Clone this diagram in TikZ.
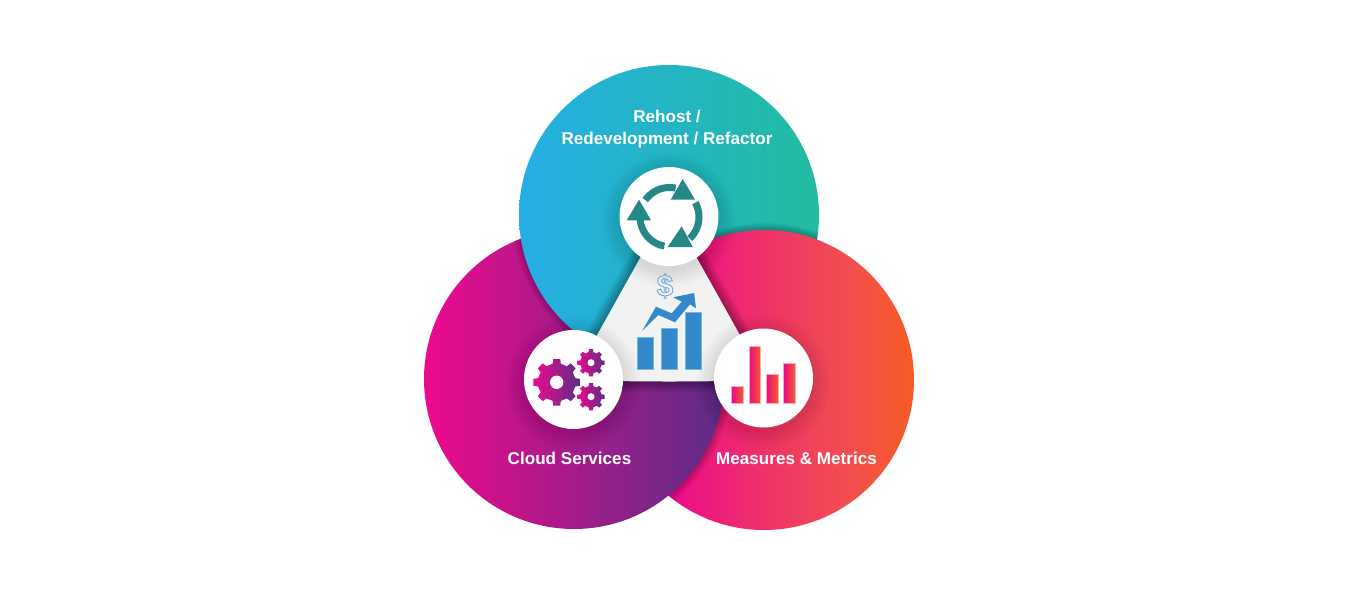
\documentclass[tikz,border=0pt]{standalone}
\usepackage{fontspec}
\setmainfont{Liberation Sans}
\newfontfamily\dollarfont{Liberation Sans}
\definecolor{cyanL}{RGB}{37,174,229}
\definecolor{tealR}{RGB}{33,188,160}
\definecolor{pinkL}{RGB}{236,10,140}
\definecolor{purpR}{RGB}{92,45,135}
\definecolor{orangeR}{RGB}{246,92,36}
\definecolor{gradA}{RGB}{239,50,105}
\definecolor{gradB}{RGB}{242,78,80}
\definecolor{greyT}{RGB}{242,242,242}
\definecolor{iconteal}{RGB}{38,135,135}
\definecolor{iconblue}{RGB}{50,137,204}
\definecolor{edgeblue}{RGB}{120,180,225}
\definecolor{edgepink}{RGB}{250,170,190}
\pgfdeclarehorizontalshading{rightgrad}{100bp}{
  color(0bp)=(pinkL); color(34bp)=(pinkL);
  color(50bp)=(gradA);
  color(64bp)=(gradB);
  color(75bp)=(orangeR); color(100bp)=(orangeR)}
\tikzset{
  toplobe/.style={left color=cyanL,right color=tealR},
  leftlobe/.style={left color=pinkL,right color=purpR},
  rightlobe/.style={shading=rightgrad},
  disc/.style={fill=white},
  cyclearrow/.style={fill=iconteal},
  cyclearc/.style={draw=iconteal,line width=7pt},
  bluebar/.style={fill=iconblue,draw=edgeblue,line width=.5pt},
  redbar/.style={left color=pinkL,right color=orangeR,draw=edgepink,line width=.5pt},
  gearfill/.style={left color=pinkL,right color=purpR},
  lobelabel/.style={text=white,font=\fontsize{17.1}{22}\selectfont\bfseries,align=center,inner sep=0pt},
}
\newcommand{\softedge}[3]{\foreach \w in {2,4,...,#2}{\draw[black,line width=\w pt,draw opacity=#3] #1;}}
\newcommand{\discshadow}[2]{\foreach \w in {2,4,...,18}{\fill[black,fill opacity=.012] (#1,#2+4) circle[radius=49+\w];}}
\newcommand{\cogwheel}[6]{% cx cy Router Rroot teeth hole
  \pgfmathsetmacro{\st}{360/#5}
  \shade[gearfill] ({#1+#4*cos(-.28*\st)},{#2+#4*sin(-.28*\st)})
    \foreach \k in {1,...,#5}{
      -- ({#1+#3*cos((\k-1)*\st-.19*\st)},{#2+#3*sin((\k-1)*\st-.19*\st)})
      -- ({#1+#3*cos((\k-1)*\st+.19*\st)},{#2+#3*sin((\k-1)*\st+.19*\st)})
      -- ({#1+#4*cos((\k-1)*\st+.28*\st)},{#2+#4*sin((\k-1)*\st+.28*\st)})
      -- ({#1+#4*cos(\k*\st-.28*\st)},{#2+#4*sin(\k*\st-.28*\st)})
    } -- cycle;
  \fill[white] (#1,#2) circle[radius=#6];
}
\begin{document}
\begin{tikzpicture}[x=1pt,y=-1pt]
\useasboundingbox (0,0) rectangle (1366,590);
\fill[white] (0,0) rectangle (1366,590);
\def\Ptop{(669,215) circle[radius=150]}
\def\Pleft{(574,379) circle[radius=150]}
\def\Pright{(764,380) circle[radius=150]}
% right lobe
\shade[rightlobe] \Pright;
% left lobe over right
\begin{scope}\clip \Pright; \softedge{\Pleft}{16}{.028} \end{scope}
\shade[leftlobe] \Pleft;
% top lobe over left
\begin{scope}\clip \Pleft; \softedge{\Ptop}{14}{.03} \end{scope}
\shade[toplobe] \Ptop;
% right lobe over top
\begin{scope}\clip \Ptop; \softedge{\Pright}{14}{.04} \end{scope}
\begin{scope}\clip (669,215) circle[radius=151.5]; \shade[rightlobe] \Pright; \end{scope}
% central triangle
\def\Ptri{(668.5,207) -- (572,380) .. controls (640,382) and (700,382) .. (765,380) -- cycle}
\softedge{\Ptri}{22}{.032}
\fill[greyT] \Ptri;
% white discs
\discshadow{669}{216.5}
\discshadow{573.5}{379.5}
\discshadow{763.5}{378}
\fill[disc] (669,216.5) circle[radius=49.5];
\fill[disc] (573.5,379.5) circle[radius=49.5];
\fill[disc] (763.5,378) circle[radius=49.5];
% cycle arrows
\draw[cyclearc] plot[domain=215:282,samples=20] ({669.5+29.5*cos(\x)},{217+29.5*sin(\x)});
\draw[cyclearc] plot[domain=331:407,samples=20] ({669.5+29.5*cos(\x)},{217+29.5*sin(\x)});
\draw[cyclearc] plot[domain=100:178,samples=20] ({669.5+29.5*cos(\x)},{217+29.5*sin(\x)});
\fill[cyclearrow] (682.7,179) -- (695,199.7) -- (670.7,199.7) -- cycle;
\fill[cyclearrow] (681.7,226.3) -- (692.7,247) -- (667.7,247) -- cycle;
\fill[cyclearrow] (639,199.7) -- (651,220.3) -- (626.7,220.3) -- cycle;
% gears
\cogwheel{556.7}{382.3}{23.5}{19}{8}{6.7}
\cogwheel{591}{362.7}{13.7}{10.8}{8}{3.5}
\cogwheel{591}{396.7}{13.7}{10.8}{8}{3.5}
% red bars
\shade[redbar] (731.7,386) rectangle (743.3,403.3);
\shade[redbar] (749,346) rectangle (760.7,403.3);
\shade[redbar] (766.3,374.3) rectangle (778,403.3);
\shade[redbar] (783.7,363.3) rectangle (795.3,403.3);
% blue bars
\fill[bluebar] (637,337.7) rectangle (653.3,369);
\fill[bluebar] (661,328.3) rectangle (677.3,369);
\fill[bluebar] (685,312.7) rectangle (701.3,369);
% trend arrow
\fill[iconblue] (642.3,330.7) -- (656,306.7) -- (671.7,313.3) -- (681.7,301.7) -- (673.3,297.3) -- (694,293) -- (696,308.3) -- (690,304.3) -- (675,322.3) -- (658.3,315) -- cycle;
% dollar
\node[inner sep=0pt,text=iconblue!75!white,font=\dollarfont\fontsize{30}{30}\selectfont\bfseries] (dollar) at (665,286)
  {\special{pdf:code 1 Tr 0.8 w}\$\special{pdf:code 0 Tr}};
% labels
\node[lobelabel] (rehost) at (667,129) {Rehost /\\Redevelopment / Refactor};
\node[lobelabel] (cloud) at (569.5,458) {Cloud Services};
\node[lobelabel] (measures) at (796.5,458) {Measures \& Metrics};
\end{tikzpicture}
\end{document}
